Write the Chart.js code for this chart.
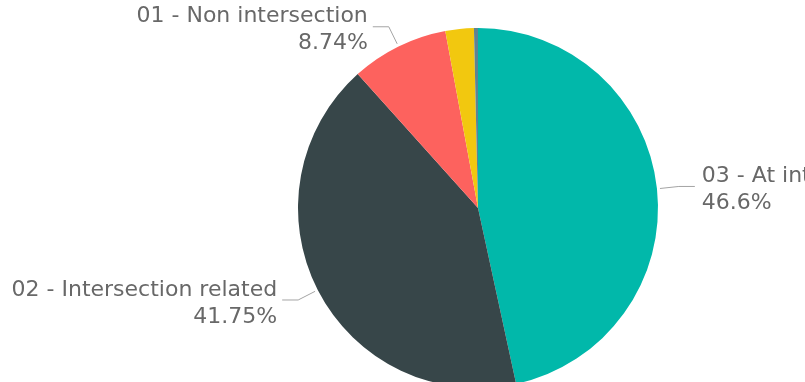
<!DOCTYPE html>
<html>
<head>
<meta charset="utf-8">
<script src="https://cdn.jsdelivr.net/npm/chart.js@4/dist/chart.umd.min.js"></script>
<style>
  html, body { margin: 0; padding: 0; background: #fff; overflow: hidden; }
  #wrap { position: absolute; left: 0; top: 0; width: 805px; height: 400px; }
</style>
</head>
<body>
<div id="wrap"><canvas id="IntersectionPie"></canvas></div>
<script>
// Slices, clockwise from the top
const categories = ["03 - At intersection", "02 - Intersection related", "01 - Non intersection", "04 - Other", "05 - Unknown"];
const shares = [46.6, 41.75, 8.74, 2.55, 0.36];
const sliceColors = ["#01B8AA", "#374649", "#FD625E", "#F2C80F", "#5F8392"];
// Only the three big slices carry a label
const labelled = [true, true, true, false, false];

const CHART_PIE = document.getElementById("IntersectionPie");

// outside labels with a leader line, Power BI style
const outsideLabels = {
  id: "outsideLabels",
  afterDatasetsDraw(chart) {
    const ctx = chart.ctx;
    const arcs = chart.getDatasetMeta(0).data;
    ctx.save();
    ctx.font = "22px 'DejaVu Sans'";
    ctx.textBaseline = "middle";
    arcs.forEach((arc, i) => {
      if (!labelled[i]) return;
      const mid = (arc.startAngle + arc.endAngle) / 2;
      const r = arc.outerRadius;
      const cos = Math.cos(mid), sin = Math.sin(mid);
      const x0 = arc.x + cos * (r + 3), y0 = arc.y + sin * (r + 3);
      const x1 = arc.x + cos * (r + 22), y1 = arc.y + sin * (r + 22);
      const right = cos >= 0;
      const x2 = x1 + (right ? 16 : -16);

      ctx.strokeStyle = "#a4a4a4";
      ctx.lineWidth = 1;
      ctx.beginPath();
      ctx.moveTo(x0, y0);
      ctx.lineTo(x1, y1);
      ctx.lineTo(x2, y1);
      ctx.stroke();

      const tx = x2 + (right ? 7 : -5);
      ctx.textAlign = right ? "left" : "right";
      ctx.fillStyle = "#686868";
      ctx.fillText(categories[i], tx, y1 - 10);
      ctx.fillText(shares[i] + "%", tx, y1 + 17);
    });
    ctx.restore();
  },
};

if (CHART_PIE != null) {
  let chart_pie = new Chart(CHART_PIE, {
    type: "pie",
    data: {
      labels: categories,
      datasets: [
        {
          data: shares,
          backgroundColor: sliceColors,
          borderWidth: 0,
        },
      ],
    },
    options: {
      responsive: true,
      maintainAspectRatio: false,
      animation: false,
      layout: {
        padding: { top: 28, bottom: 12, left: 298, right: 147 },
      },
      plugins: {
        legend: { display: false },
        tooltip: { enabled: false },
      },
    },
    plugins: [outsideLabels],
  });
}
</script>
</body>
</html>
